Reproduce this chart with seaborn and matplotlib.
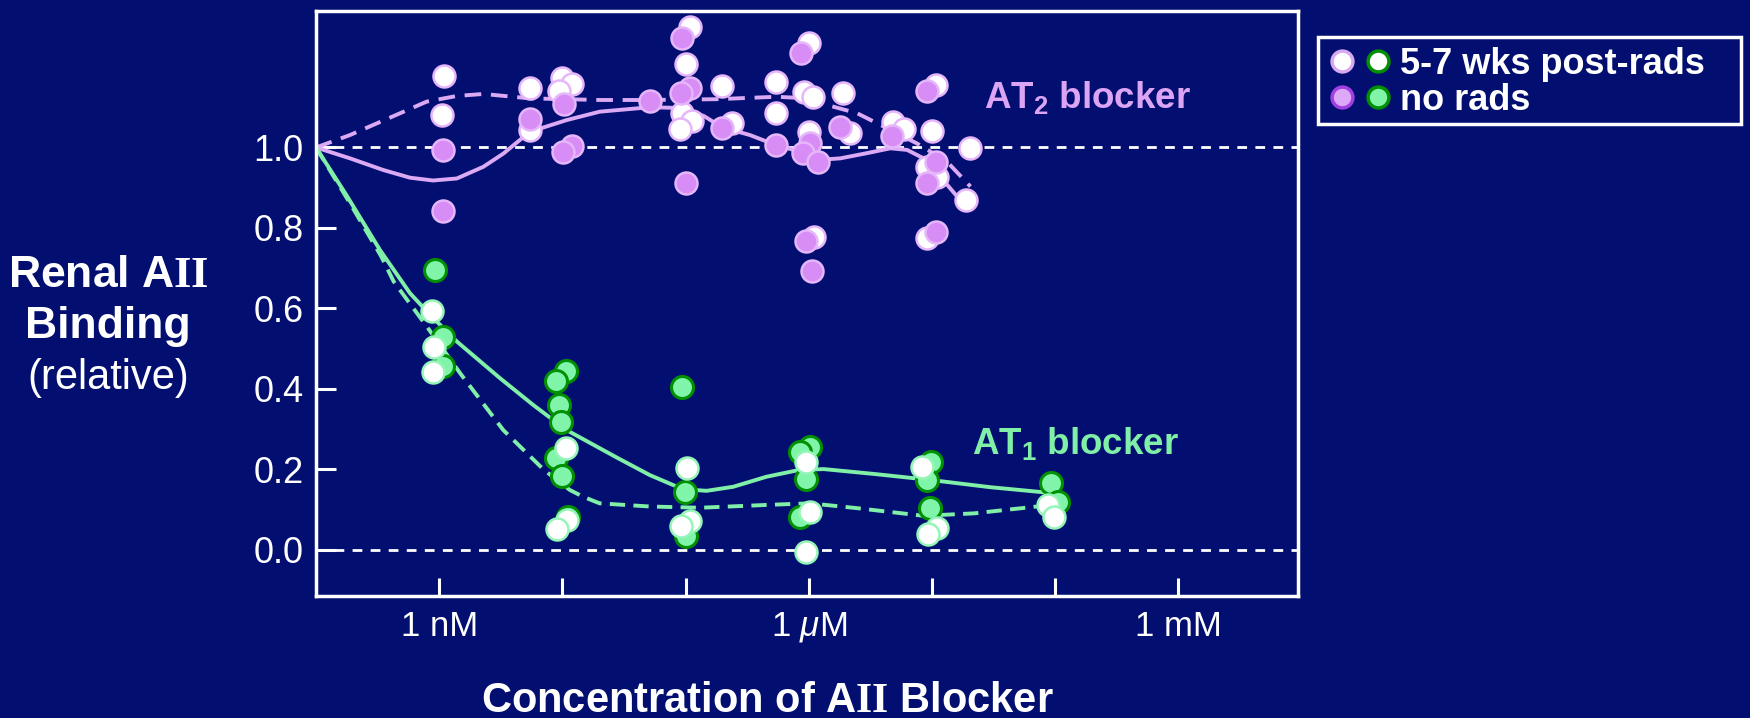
import matplotlib
matplotlib.use("Agg")
import matplotlib.pyplot as plt
import seaborn as sns
from matplotlib.lines import Line2D
from matplotlib.legend_handler import HandlerTuple
from matplotlib.patches import Rectangle
from matplotlib.ticker import FixedLocator, NullLocator

sns.set_theme(style="white")
plt.rcParams['font.family'] = ['Liberation Sans', 'DejaVu Sans']
plt.rcParams['mathtext.fontset'] = 'custom'
plt.rcParams['mathtext.rm'] = 'Liberation Serif'
plt.rcParams['mathtext.bf'] = 'Liberation Serif:bold'
plt.rcParams['mathtext.it'] = 'Liberation Sans:italic'
plt.rcParams['mathtext.sf'] = 'Liberation Sans:bold'
plt.rcParams['lines.scale_dashes'] = False

# ---- data (concentration in M, binding relative to control) ----
at2_rads_conc = [1.10e-9, 1.06e-9, 5.44e-9, 5.44e-9, 9.9e-9, 1.19e-8, 9.4e-9, 1.08e-7,
                 1.0e-7, 9.3e-8, 1.12e-7, 9.0e-8, 1.98e-7, 2.36e-7, 5.4e-7, 5.4e-7,
                 1.0e-6, 9.1e-7, 1.08e-6, 1.01e-6, 1.11e-6, 1.9e-6, 2.15e-6, 4.83e-6,
                 5.89e-6, 1.08e-5, 1.0e-5, 9.1e-6, 1.1e-5, 9.1e-6, 2.02e-5, 1.89e-5]
at2_rads_val = [1.178, 1.081, 1.147, 1.043, 1.173, 1.158, 1.140, 1.300,
                1.207, 1.085, 1.066, 1.046, 1.153, 1.060, 1.162, 1.085,
                1.259, 1.139, 1.125, 1.039, 0.778, 1.135, 1.035, 1.064,
                1.046, 1.155, 1.042, 0.952, 0.927, 0.776, 0.998, 0.870]

at2_norads_conc = [1.07e-9, 1.07e-9, 5.44e-9, 1.03e-8, 1.19e-8, 1.02e-8, 5.13e-8, 9.4e-8,
                   1.08e-7, 9.1e-8, 1.0e-7, 1.98e-7, 5.4e-7, 8.7e-7, 1.03e-6, 9.0e-7,
                   1.18e-6, 9.4e-7, 1.06e-6, 1.78e-6, 4.74e-6, 9.1e-6, 1.08e-5, 9.1e-6,
                   1.08e-5]
at2_norads_val = [0.994, 0.842, 1.072, 1.108, 1.004, 0.990, 1.116, 1.271,
                  1.149, 1.135, 0.911, 1.048, 1.006, 1.234, 1.010, 0.987,
                  0.965, 0.768, 0.692, 1.052, 1.029, 1.141, 0.965, 0.913,
                  0.791]

at1_norads_conc = [9.2e-10, 1.08e-9, 1.08e-9, 1.07e-8, 8.8e-9, 9.4e-9, 9.7e-9, 8.8e-9,
                   1.0e-8, 1.12e-8, 9.4e-8, 9.8e-8, 1.0e-7, 1.02e-6, 8.4e-7, 9.5e-7,
                   8.5e-7, 9.8e-6, 9.1e-6, 9.7e-6, 9.3e-5, 1.06e-4]
at1_norads_val = [0.696, 0.528, 0.458, 0.445, 0.421, 0.360, 0.319, 0.229,
                  0.184, 0.082, 0.404, 0.145, 0.035, 0.257, 0.244, 0.176,
                  0.083, 0.219, 0.174, 0.104, 0.167, 0.120]

at1_rads_conc = [8.7e-10, 9.1e-10, 8.9e-10, 1.07e-8, 1.09e-8, 9.1e-9, 1.03e-7, 1.08e-7,
                 9.1e-8, 9.4e-7, 1.03e-6, 9.4e-7, 8.3e-6, 1.1e-5, 9.2e-6, 8.7e-5, 9.7e-5]
at1_rads_val = [0.594, 0.504, 0.443, 0.254, 0.074, 0.051, 0.203, 0.073,
                0.060, 0.219, 0.095, -0.004, 0.207, 0.054, 0.039, 0.112, 0.083]

# fitted curves
at2_solid_conc = [1.0e-10, 1.89e-10, 3.52e-10, 5.79e-10, 8.9e-10, 1.39e-9, 2.28e-9, 3.32e-9,
                  5.44e-9, 1.08e-8, 2.01e-8, 5.13e-8, 9.5e-8, 1.41e-7, 1.98e-7, 3.32e-7,
                  5.4e-7, 8.4e-7, 1.17e-6, 1.8e-6, 2.97e-6, 4.59e-6, 6.27e-6, 8.55e-6,
                  1.17e-5, 1.6e-5, 1.92e-5]
at2_solid_val = [1.000, 0.973, 0.944, 0.925, 0.918, 0.923, 0.952, 0.985,
                 1.039, 1.068, 1.089, 1.100, 1.098, 1.078, 1.050, 1.031,
                 1.006, 0.990, 0.969, 0.973, 0.986, 0.998, 0.994, 0.973,
                 0.927, 0.878, 0.845]

at2_dash_conc = [1.0e-10, 1.89e-10, 4.26e-10, 7.92e-10, 1.39e-9, 2.28e-9, 5.44e-9, 2.01e-8,
                 5.13e-8, 1.78e-7, 5.46e-7, 1.0e-6, 1.32e-6, 2.47e-6, 4.05e-6, 7.55e-6,
                 1.32e-5, 2.05e-5]
at2_dash_val = [1.000, 1.031, 1.078, 1.114, 1.128, 1.133, 1.122, 1.118,
                1.118, 1.120, 1.126, 1.122, 1.108, 1.085, 1.052, 1.010,
                0.965, 0.903]

at1_solid_conc = [1.0e-10, 1.78e-10, 3.31e-10, 5.79e-10, 8.7e-10, 1.39e-9, 3.11e-9, 5.81e-9,
                  1.08e-8, 2.75e-8, 5.13e-8, 9.5e-8, 1.48e-7, 2.43e-7, 4.53e-7, 8.4e-7,
                  1.32e-6, 3.36e-6, 9.7e-6, 2.97e-5, 9.7e-5]
at1_solid_val = [1.000, 0.880, 0.745, 0.638, 0.580, 0.518, 0.427, 0.360,
                 0.298, 0.230, 0.186, 0.151, 0.147, 0.157, 0.182, 0.199,
                 0.201, 0.189, 0.174, 0.156, 0.141]

at1_dash_conc = [1.0e-10, 1.9e-10, 3.39e-10, 4.27e-10, 7.94e-10, 1.48e-9, 3.31e-9, 7.08e-9,
                 1.15e-8, 1.48e-8, 2.0e-8, 5.13e-8, 1.32e-7, 4.57e-7, 1.02e-6, 2.45e-6,
                 8.5e-6, 2.19e-5, 7.08e-5]
at1_dash_val = [1.000, 0.860, 0.729, 0.667, 0.555, 0.439, 0.298, 0.199,
                0.149, 0.132, 0.116, 0.108, 0.105, 0.112, 0.116, 0.104,
                0.085, 0.091, 0.108]

x_ticks = [1e-9, 1e-8, 1e-7, 1e-6, 1e-5, 1e-4, 1e-3]
x_ticklabels = ['1 nM', '', '', r'1 $\mu$M', '', '', '1 mM']
y_ticks = [0.0, 0.2, 0.4, 0.6, 0.8, 1.0]
legend_labels = ['5-7 wks post-rads', 'no rads']

# ---- colours ----
bg = '#020f70'
lav_fill = '#d78cf6'
lav_edge = '#e6b6fa'
lav_line = '#dcaaf5'
mint_fill = '#80f5aa'
mint_line = '#80f0a8'
dark_green = '#009000'

fig = plt.figure(figsize=(17.5, 7.18), dpi=100, facecolor=bg)
ax = fig.add_axes([0.18057, 0.16992, 0.56114, 0.81476])
ax.set_facecolor(bg)

ax.axhline(0.0, color='white', lw=2, linestyle=(0, (7, 6)), zorder=1)
ax.axhline(1.0, color='white', lw=2, linestyle=(0, (7, 6)), zorder=1)

sns.lineplot(x=at2_solid_conc, y=at2_solid_val, ax=ax, color=lav_line, lw=2.8,
             estimator=None, sort=False, zorder=2)
sns.lineplot(x=at2_dash_conc, y=at2_dash_val, ax=ax, color=lav_line, lw=2.8,
             linestyle=(0, (12, 7)), estimator=None, sort=False, zorder=2)
sns.lineplot(x=at1_solid_conc, y=at1_solid_val, ax=ax, color=mint_line, lw=2.8,
             estimator=None, sort=False, zorder=2)
sns.lineplot(x=at1_dash_conc, y=at1_dash_val, ax=ax, color=mint_line, lw=2.8,
             linestyle=(0, (11, 6)), estimator=None, sort=False, zorder=2)

sns.scatterplot(x=at2_rads_conc, y=at2_rads_val, ax=ax, s=250, color='white',
                edgecolor=lav_edge, linewidth=1.8, zorder=3, legend=False)
sns.scatterplot(x=at2_norads_conc, y=at2_norads_val, ax=ax, s=250, color=lav_fill,
                edgecolor=lav_edge, linewidth=1.8, zorder=4, legend=False)
sns.scatterplot(x=at1_norads_conc, y=at1_norads_val, ax=ax, s=250, color=mint_fill,
                edgecolor=dark_green, linewidth=2.2, zorder=5, legend=False)
sns.scatterplot(x=at1_rads_conc, y=at1_rads_val, ax=ax, s=250, color='white',
                edgecolor='#95f5b8', linewidth=1.8, zorder=6, legend=False)

ax.set_xscale('log')
ax.set_xlim(1e-10, 10 ** -2.03)
ax.set_ylim(-0.1143, 1.3391)
ax.xaxis.set_major_locator(FixedLocator(x_ticks))
ax.xaxis.set_minor_locator(NullLocator())
ax.set_xticklabels(x_ticklabels)
ax.set_yticks(y_ticks)
ax.set_yticklabels(['%.1f' % v for v in y_ticks])
ax.set_xlabel('')
ax.set_ylabel('')

for sp in ax.spines.values():
    sp.set_color('white')
    sp.set_linewidth(2.5)
ax.tick_params(axis='both', which='major', direction='in', colors='white', width=2.2,
               bottom=True, left=True, top=False, right=False)
ax.tick_params(axis='x', length=13, pad=10, labelsize=25)
ax.tick_params(axis='y', length=14.5, pad=9, labelsize=26)

ax.text(2.62e-5, 1.099, r'AT$_\mathsf{2}$ blocker', color='#dca4f4', fontsize=26.5,
        fontweight='bold', va='baseline', ha='left')
ax.text(2.11e-5, 0.2385, r'AT$_\mathsf{1}$ blocker', color=mint_line, fontsize=26.5,
        fontweight='bold', va='baseline', ha='left')

# axis titles
fig.text(0.0617, 0.6003, r'Renal A$\mathbf{II}$', color='white', fontsize=32,
         fontweight='bold', ha='center', va='baseline')
fig.text(0.0617, 0.5292, 'Binding', color='white', fontsize=32,
         fontweight='bold', ha='center', va='baseline')
fig.text(0.0617, 0.4582, '(relative)', color='white', fontsize=30,
         ha='center', va='baseline')
fig.text(0.4383, 0.0084, r'Concentration of A$\mathbf{II}$ Blocker', color='white',
         fontsize=30, fontweight='bold', ha='center', va='baseline')

# legend
h_rads2 = Line2D([], [], ls='none', marker='o', ms=15, mfc='white', mec='#d8a8f0', mew=2.5)
h_rads1 = Line2D([], [], ls='none', marker='o', ms=15, mfc='white', mec=dark_green, mew=2.5)
h_none2 = Line2D([], [], ls='none', marker='o', ms=15, mfc='#dea8f8', mec='#a040e0', mew=2.5)
h_none1 = Line2D([], [], ls='none', marker='o', ms=15, mfc=mint_fill, mec=dark_green, mew=2.5)
leg = fig.legend([(h_rads2, h_rads1), (h_none2, h_none1)], legend_labels,
                 handler_map={tuple: HandlerTuple(ndivide=None, pad=0.36)},
                 loc='upper left', bbox_to_anchor=(1331 / 1750, 1 - 47 / 718),
                 frameon=False, borderpad=0, borderaxespad=0, handlelength=1.6,
                 handletextpad=0.3, labelspacing=0.03,
                 prop={'size': 26, 'weight': 'bold'}, labelcolor='white')
fig.patches.append(Rectangle((1318 / 1750, 1 - 124 / 718), 423 / 1750, 87 / 718,
                             transform=fig.transFigure, fill=False,
                             edgecolor='white', lw=2.5))

fig.savefig('out.png', dpi=100, facecolor=bg)
